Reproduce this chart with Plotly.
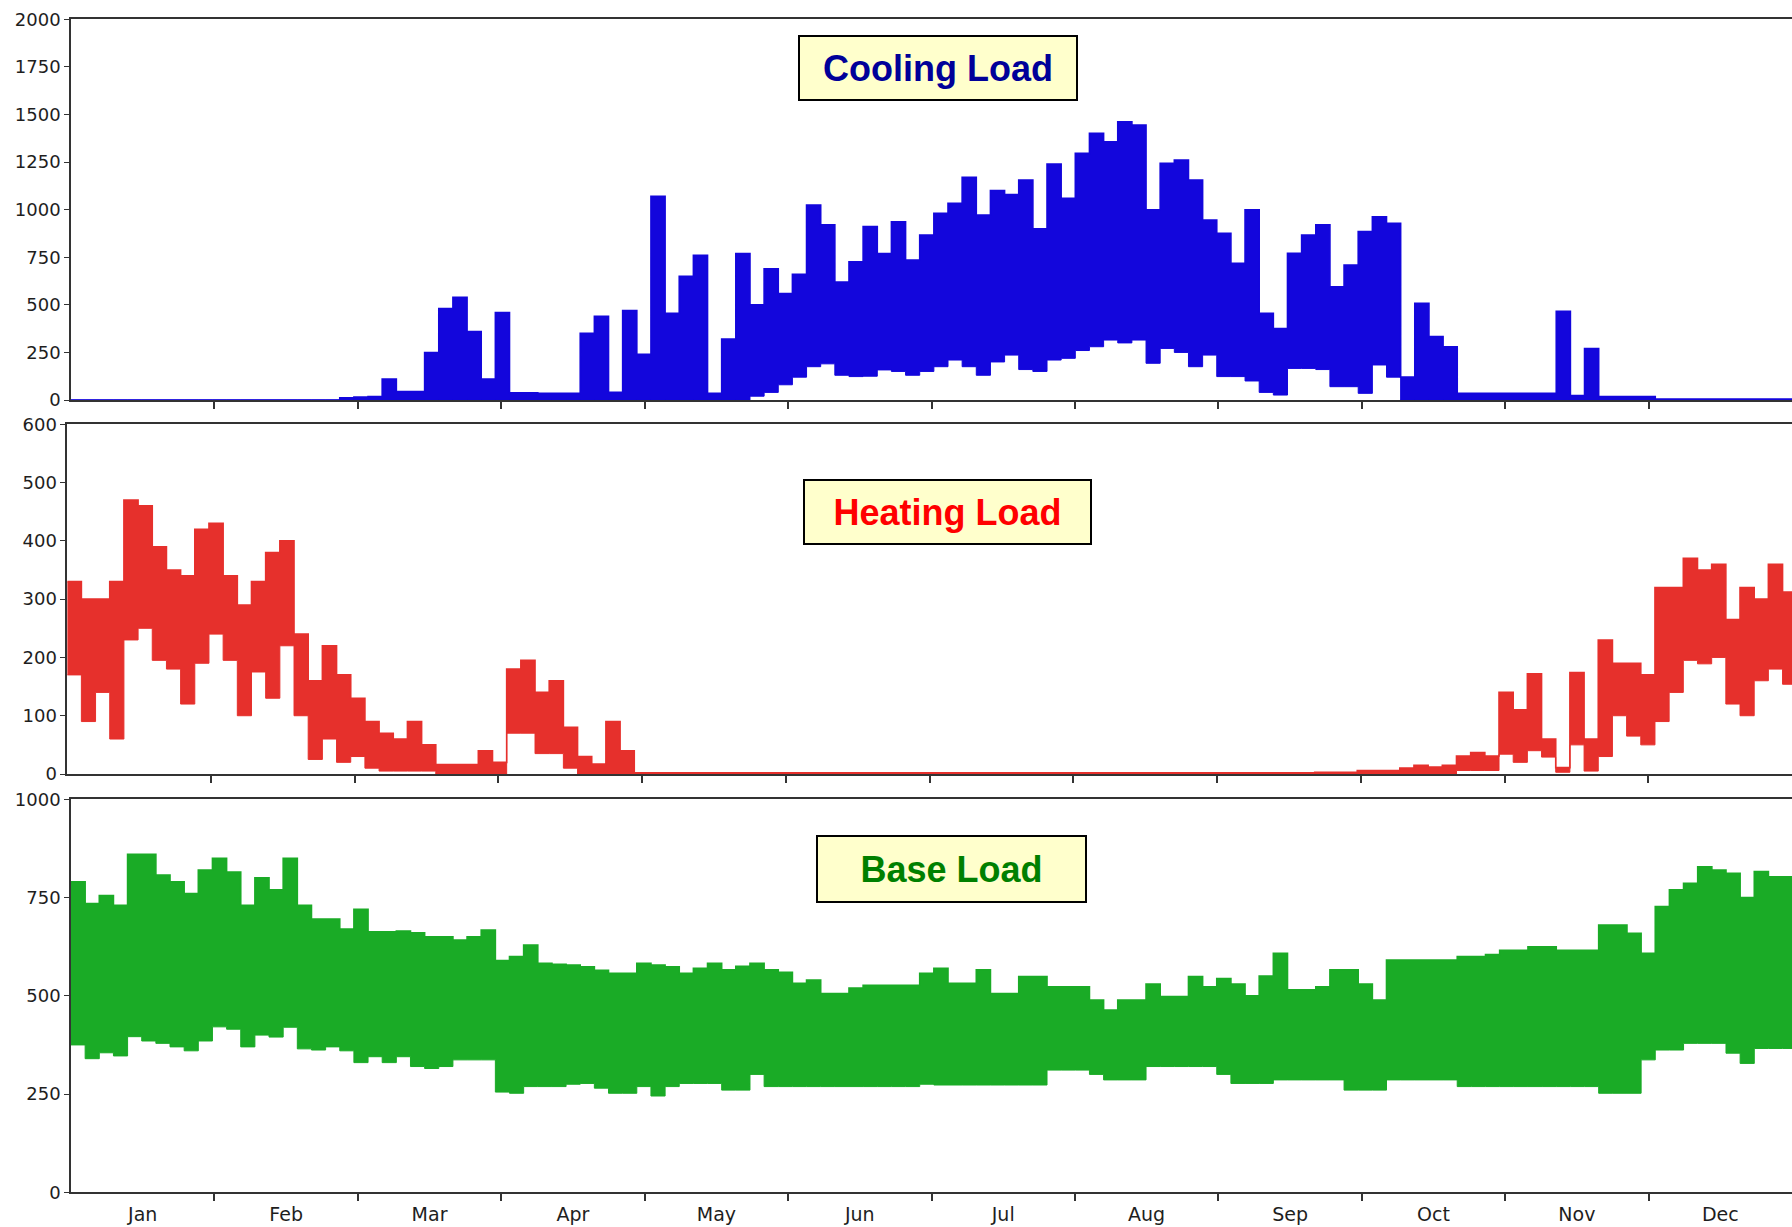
import plotly.graph_objects as go

# Hourly simulation results summarised as daily-envelope bins of 3 days each
# (upper = highest hourly value in the bin, lower = lowest hourly value).
BIN_HOURS = 72
YEAR_HOURS = 8760
MONTH_HOURS = 730
MONTHS = ["Jan", "Feb", "Mar", "Apr", "May", "Jun",
          "Jul", "Aug", "Sep", "Oct", "Nov", "Dec"]

cooling_hi = (
    [0] * 19
    + [12, 15, 18, 110, 45, 45, 250, 480, 540, 360,
       110, 460, 38, 38, 35, 35, 35, 350, 440, 40,
       470, 240, 1070, 455, 650, 760, 35, 320, 770, 500,
       690, 560, 660, 1025, 920, 620, 726, 911, 770, 937,
       735, 867, 981, 1033, 1170, 972, 1100, 1080, 1156, 900,
       1240, 1060, 1296, 1401, 1357, 1462, 1445, 1000, 1244, 1261,
       1156, 946, 876, 718, 1000, 455, 376, 771, 867, 920,
       595, 709, 885, 963, 929, 120, 508, 333, 280]
    + [35] * 7
    + [466, 24, 271]
    + [18] * 4
    + [5] * 10
)
cooling_lo = (
    [0] * 48
    + [20, 40, 80, 120, 175, 190, 130, 123, 125, 158,
       150, 130, 150, 175, 210, 175, 130, 200, 236, 160,
       150, 210, 219, 260, 280, 315, 300, 315, 193, 271,
       250, 175, 236, 123, 123, 100, 40, 26, 166, 166,
       160, 70, 70, 35, 184, 120]
    + [0] * 28
)

heating_hi = (
    [330, 300, 300, 330, 470, 460, 390, 350, 340, 420,
     430, 340, 290, 330, 380, 400, 240, 160, 220, 170,
     130, 90, 70, 60, 90, 50, 16, 16, 16, 40,
     20, 180, 195, 140, 160, 80, 30, 17, 90, 40]
    + [2] * 48
    + [3, 3, 3, 6, 6, 6, 10, 15, 12, 15,
       31, 37, 31, 140, 110, 172, 60, 11, 174, 60,
       230, 190, 190, 170, 320, 320, 370, 350, 360, 265,
       320, 300, 360, 312]
)
heating_lo = (
    [170, 90, 140, 60, 230, 250, 195, 180, 120, 190,
     240, 195, 100, 175, 130, 220, 100, 25, 60, 20,
     30, 10, 5, 5, 5, 5, 0, 0, 0, 0,
     0, 70, 70, 35, 35, 10]
    + [0] * 62
    + [6, 6, 6, 34, 20, 40, 29, 3, 50, 5,
       30, 100, 65, 50, 90, 140, 195, 189, 200, 120,
       100, 160, 180, 154]
)

base_hi = [
    790, 735, 755, 730, 860, 860, 807, 790, 760, 820,
    850, 815, 730, 800, 770, 850, 730, 695, 695, 670,
    720, 663, 663, 665, 660, 650, 650, 642, 650, 667,
    590, 600, 629, 583, 580, 578, 574, 565, 557, 557,
    583, 578, 574, 557, 570, 583, 566, 575, 583, 566,
    560, 532, 540, 506, 506, 520, 527, 527, 527, 527,
    557, 570, 532, 532, 566, 506, 506, 549, 549, 523,
    523, 523, 489, 464, 489, 489, 530, 498, 498, 549,
    523, 544, 530, 500, 550, 608, 515, 515, 523, 566,
    566, 530, 489, 591, 591, 591, 591, 591, 600, 600,
    605, 616, 616, 625, 625, 616, 616, 616, 680, 680,
    659, 608, 727, 770, 786, 828, 820, 812, 750, 816,
    803, 803,
]
base_lo = [
    375, 340, 355, 347, 396, 385, 379, 370, 360, 385,
    421, 415, 370, 400, 395, 420, 365, 362, 370, 360,
    330, 345, 330, 345, 320, 315, 320, 337, 337, 337,
    255, 252, 269, 269, 269, 275, 277, 265, 252, 252,
    269, 245, 269, 277, 277, 277, 260, 260, 300, 269,
    269, 269, 269, 269, 269, 269, 269, 269, 269, 269,
    275, 273, 273, 273, 273, 273, 273, 273, 273, 311,
    311, 311, 300, 286, 286, 286, 320, 320, 320, 320,
    320, 300, 277, 277, 277, 286, 286, 286, 286, 286,
    260, 260, 260, 286, 286, 286, 286, 286, 269, 269,
    269, 269, 269, 269, 269, 269, 269, 269, 252, 252,
    252, 337, 362, 362, 379, 379, 379, 354, 328, 366,
    366, 366,
]

for series in (cooling_hi, cooling_lo, heating_hi, heating_lo, base_hi, base_lo):
    assert len(series) == 122

W, H = 1792, 1227
fig = go.Figure()


def add_band(hi, lo, color, xa, ya):
    x = [i * BIN_HOURS for i in range(len(hi))] + [YEAR_HOURS]
    fig.add_trace(go.Scatter(
        x=x, y=lo + [lo[-1]], mode="lines",
        line=dict(color=color, width=1, shape="hv"),
        xaxis=xa, yaxis=ya, hoverinfo="skip", showlegend=False))
    fig.add_trace(go.Scatter(
        x=x, y=hi + [hi[-1]], mode="lines",
        line=dict(color=color, width=1.6, shape="hv"),
        fill="tonexty", fillcolor=color,
        xaxis=xa, yaxis=ya, hoverinfo="skip", showlegend=False))


add_band(cooling_hi, cooling_lo, "#1306dc", "x", "y")
add_band(heating_hi, heating_lo, "#e6302c", "x2", "y2")
add_band(base_hi, base_lo, "#1aab26", "x3", "y3")

ytick_font = dict(family="DejaVu Sans, Arial", size=18, color="#1e1e1e")
xtick_font = dict(family="DejaVu Sans, Arial", size=19, color="#1e1e1e")
line_style = dict(showline=True, linecolor="#333333", linewidth=1.5,
                  mirror=True, showgrid=False, zeroline=False,
                  automargin=False)

month_centers = [MONTH_HOURS * i + MONTH_HOURS / 2 for i in range(12)]
month_edges = [MONTH_HOURS * i for i in range(1, 12)]


def x_axis(domain, anchor, labels):
    return dict(
        domain=domain, anchor=anchor, range=[0, YEAR_HOURS], **line_style,
        tickmode="array", tickvals=month_centers, ticktext=MONTHS,
        showticklabels=labels, ticks="outside", ticklen=4,
        tickcolor="rgba(0,0,0,0)", tickfont=xtick_font,
        minor=dict(tickmode="array", tickvals=month_edges, ticks="outside",
                   ticklen=7, tickwidth=1.5, tickcolor="#333333"),
    )


def y_axis(domain, anchor, top, step):
    return dict(
        domain=domain, anchor=anchor, range=[0, top], **line_style,
        tickmode="array", tickvals=list(range(0, top + 1, step)),
        ticks="outside", ticklen=5, tickwidth=1.2, tickcolor="#333333",
        tickfont=ytick_font,
    )


def ydom(top_px, bottom_px):
    return [1 - bottom_px / H, 1 - top_px / H]


fig.update_layout(
    width=W, height=H,
    margin=dict(l=0, r=0, t=0, b=0, autoexpand=False),
    paper_bgcolor="white", plot_bgcolor="white",
    showlegend=False,
    xaxis=x_axis([71 / W, 1], "y", False),
    xaxis2=x_axis([67.2 / W, 1], "y2", False),
    xaxis3=x_axis([71 / W, 1], "y3", True),
    yaxis=y_axis(ydom(19.4, 400), "x", 2000, 250),
    yaxis2=y_axis(ydom(424.3, 774), "x2", 600, 100),
    yaxis3=y_axis(ydom(799.3, 1192.3), "x3", 1000, 250),
)

titles = [
    ("Cooling Load", "#000099", 938, 68, 276, 62),
    ("Heating Load", "#ff0000", 947.5, 512, 285, 62),
    ("Base Load", "#008000", 951.5, 869, 267, 64),
]
for text, color, cx, cy, bw, bh in titles:
    fig.add_annotation(
        xref="paper", yref="paper", x=cx / W, y=1 - cy / H,
        xanchor="center", yanchor="middle", showarrow=False,
        text=f"<b>{text}</b>",
        font=dict(family="Liberation Sans, Arial", size=36, color=color),
        bgcolor="#ffffcc", bordercolor="#000000", borderwidth=2,
        borderpad=0, width=bw, height=bh, align="center", valign="middle",
    )

fig.write_html("out.html")
